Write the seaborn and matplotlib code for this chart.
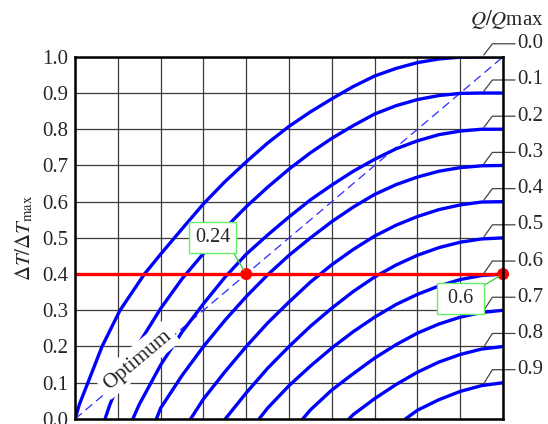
import numpy as np
import pandas as pd
import matplotlib
matplotlib.use("Agg")
import matplotlib.pyplot as plt
import seaborn as sns

# Q/Qmax levels of the curves
q_levels = [0.0, 0.1, 0.2, 0.3, 0.4, 0.5, 0.6, 0.7, 0.8, 0.9]
q_labels = ["0.0", "0.1", "0.2", "0.3", "0.4", "0.5", "0.6", "0.7", "0.8", "0.9"]

# curves (x = I/Imax, y = dT/dTmax)
q00_x = [0, 0.01, 0.03, 0.063, 0.105, 0.162, 0.2, 0.25, 0.3, 0.35, 0.4, 0.45, 0.5, 0.55,
         0.6, 0.65, 0.7, 0.75, 0.8, 0.85, 0.9, 0.95, 1.0]
q00_y = [0, 0.04, 0.1, 0.2, 0.3, 0.4, 0.455, 0.525, 0.594, 0.655, 0.71, 0.762, 0.808, 0.848,
         0.884, 0.918, 0.947, 0.968, 0.984, 0.994, 0.999, 1.0, 1.0]
q01_x = [0.07, 0.08, 0.1, 0.15, 0.2, 0.25, 0.3, 0.35, 0.4, 0.45, 0.5, 0.55, 0.6, 0.65, 0.7,
         0.75, 0.8, 0.85, 0.9, 0.95, 1.0]
q01_y = [0, 0.035, 0.095, 0.21, 0.305, 0.387, 0.457, 0.526, 0.586, 0.64, 0.69, 0.735, 0.775,
         0.81, 0.842, 0.865, 0.882, 0.893, 0.899, 0.9, 0.9]
q02_x = [0.135, 0.15, 0.2, 0.25, 0.3, 0.35, 0.4, 0.45, 0.5, 0.55, 0.6, 0.65, 0.7, 0.75, 0.8,
         0.85, 0.9, 0.95, 1.0]
q02_y = [0, 0.04, 0.149, 0.24, 0.318, 0.391, 0.455, 0.508, 0.558, 0.605, 0.646, 0.684, 0.717,
         0.746, 0.768, 0.785, 0.795, 0.8, 0.8]
q03_x = [0.19, 0.2, 0.25, 0.3, 0.35, 0.4, 0.45, 0.5, 0.55, 0.6, 0.65, 0.7, 0.75, 0.8, 0.85,
         0.9, 0.95, 1.0]
q03_y = [0, 0.03, 0.12, 0.2, 0.272, 0.338, 0.398, 0.452, 0.5, 0.545, 0.585, 0.62, 0.647,
         0.668, 0.684, 0.694, 0.699, 0.7]
q04_x = [0.27, 0.3, 0.35, 0.4, 0.45, 0.5, 0.55, 0.6, 0.65, 0.7, 0.75, 0.8, 0.85, 0.9, 0.95, 1.0]
q04_y = [0, 0.055, 0.13, 0.2, 0.265, 0.323, 0.378, 0.426, 0.468, 0.505, 0.535, 0.559, 0.578,
         0.591, 0.599, 0.6]
q05_x = [0.351, 0.4, 0.45, 0.5, 0.55, 0.6, 0.65, 0.7, 0.75, 0.8, 0.85, 0.9, 0.95, 1.0]
q05_y = [0, 0.072, 0.14, 0.2, 0.256, 0.306, 0.352, 0.392, 0.425, 0.452, 0.473, 0.488, 0.497, 0.5]
q06_x = [0.43, 0.45, 0.5, 0.55, 0.6, 0.65, 0.7, 0.75, 0.8, 0.85, 0.9, 0.95, 1.0]
q06_y = [0, 0.03, 0.092, 0.146, 0.196, 0.241, 0.281, 0.316, 0.344, 0.367, 0.385, 0.396, 0.4]
q07_x = [0.532, 0.55, 0.6, 0.65, 0.7, 0.75, 0.8, 0.85, 0.9, 0.95, 1.0]
q07_y = [0, 0.025, 0.08, 0.125, 0.168, 0.205, 0.237, 0.262, 0.281, 0.294, 0.3]
q08_x = [0.64, 0.65, 0.7, 0.75, 0.8, 0.85, 0.9, 0.95, 1.0]
q08_y = [0, 0.012, 0.056, 0.095, 0.129, 0.157, 0.178, 0.193, 0.2]
q09_x = [0.772, 0.8, 0.85, 0.9, 0.95, 1.0]
q09_y = [0, 0.024, 0.053, 0.076, 0.092, 0.1]

curve_xs = [q00_x, q01_x, q02_x, q03_x, q04_x, q05_x, q06_x, q07_x, q08_x, q09_x]
curve_ys = [q00_y, q01_y, q02_y, q03_y, q04_y, q05_y, q06_y, q07_y, q08_y, q09_y]

# optimum line and operating point
optimum_x = [0.0, 1.0]
optimum_y = [0.0, 1.0]
op_level = 0.4
op_line_x = [0.0, 1.0]
op_points_x = [0.4, 1.0]
op_texts = ["0.24", "0.6"]

y_ticks = [0.0, 0.1, 0.2, 0.3, 0.4, 0.5, 0.6, 0.7, 0.8, 0.9, 1.0]
x_ticks = [0.0, 0.1, 0.2, 0.3, 0.4, 0.5, 0.6, 0.7, 0.8, 0.9, 1.0]

frames = []
for q, xs, ys in zip(q_levels, curve_xs, curve_ys):
    frames.append(pd.DataFrame({"x": xs, "y": ys, "q": q}))
df = pd.concat(frames, ignore_index=True)

sns.set_style("white")
plt.rcParams["font.family"] = ["Liberation Serif", "DejaVu Serif"]
plt.rcParams["mathtext.fontset"] = "stix"

fig = plt.figure(figsize=(5.48, 4.24), dpi=100)
ax = fig.add_axes([0.137, 0.012, 0.781, 0.854])

sns.lineplot(data=df, x="x", y="y", units="q", estimator=None, sort=False,
             color="#0000ff", linewidth=2.4, ax=ax, legend=False, zorder=3,
             solid_joinstyle="round", solid_capstyle="round")

# dashed optimum line
ax.plot(optimum_x, optimum_y, color="#2b2bff", lw=0.9, dashes=(7, 4), zorder=2)

# red operating line + points
ax.plot(op_line_x, [op_level] * 2, color="#ff0000", lw=2.4, zorder=4, solid_capstyle="butt")
sns.scatterplot(x=op_points_x, y=[op_level] * 2, color="#ff0000", s=75,
                edgecolor="none", ax=ax, zorder=6, clip_on=False)

box = dict(boxstyle="square,pad=0.3", fc="white", ec="#66ee66", lw=1)
ax.annotate(op_texts[0], xy=(op_points_x[0], op_level), xytext=(0.321, 0.50),
            ha="center", va="center", fontsize=14.5, bbox=box, zorder=7,
            arrowprops=dict(arrowstyle="-", color="#33cc33", lw=0.9,
                            relpos=(1, 0), shrinkA=0, shrinkB=3))
ax.annotate(" " + op_texts[1] + " ", xy=(op_points_x[1], op_level), xytext=(0.90, 0.333),
            ha="center", va="center", fontsize=14.5, bbox=box, zorder=7,
            arrowprops=dict(arrowstyle="-", color="#33cc33", lw=0.9,
                            relpos=(1, 1), shrinkA=0, shrinkB=3))

ax.text(0.145, 0.163, "Optimum", rotation=40, rotation_mode="anchor",
        ha="center", va="center", fontsize=15.5, zorder=5,
        bbox=dict(boxstyle="square,pad=0.2", fc="white", ec="none"))

# right-hand Q/Qmax labels with leader lines
for q, lab, xs, ys in zip(q_levels, q_labels, curve_xs, curve_ys):
    y_lab = 1 - q + 0.036
    y_end = np.interp(0.955, xs, ys)
    ax.plot([1.028, 0.975, 0.955], [y_lab, y_lab, y_end + 0.005],
            color="#444444", lw=0.9, clip_on=False, zorder=5)
    ax.text(1.034, y_lab, lab, ha="left", va="center", fontsize=15)
ax.text(1.095, 1.104, r"$Q/Q$max", ha="right", va="center", fontsize=15)

ax.set_xlim(0, 1)
ax.set_ylim(0, 1)
ax.set_xticks(x_ticks)
ax.set_yticks(y_ticks)
ax.set_yticklabels([f"{v:.1f}" for v in y_ticks], fontsize=15)
ax.tick_params(length=0, labelbottom=False, pad=5)
ax.grid(True, color="#3c3c3c", lw=0.9)
ax.set_axisbelow(True)
ax.set_xlabel("")
ax.set_ylabel(r"$\Delta T/\Delta T_{\rm max}$", fontsize=15, labelpad=5)
for s in ax.spines.values():
    s.set_linewidth(1.8)
    s.set_color("black")
    s.set_zorder(8)

fig.savefig("out.png", dpi=100)
